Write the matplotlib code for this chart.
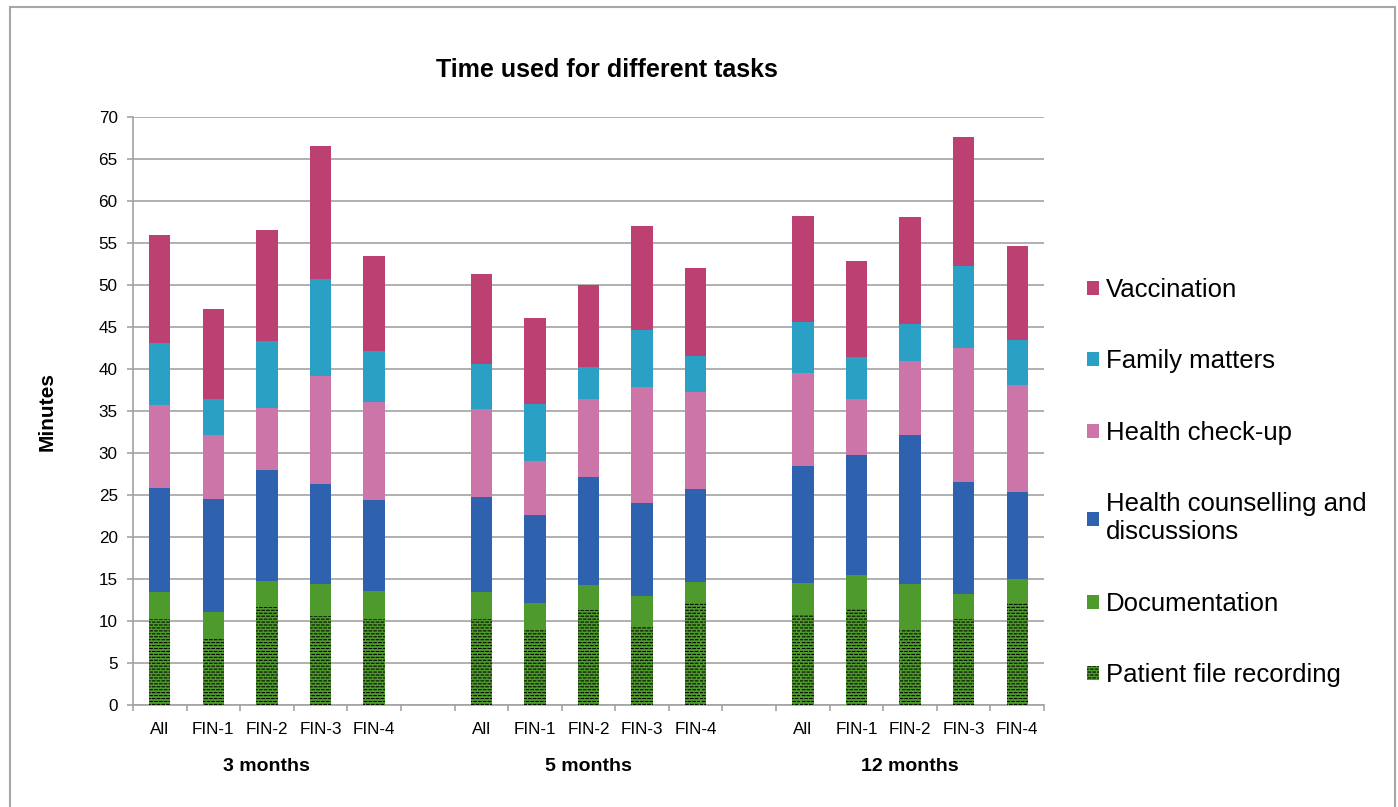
import numpy as np
import matplotlib
matplotlib.use("Agg")
import matplotlib.pyplot as plt
import matplotlib.transforms as mtransforms
from matplotlib import hatch as mhatch
from matplotlib.path import Path
from matplotlib.patches import Rectangle

groups = ["3 months", "5 months", "12 months"]
sites = ["All", "FIN-1", "FIN-2", "FIN-3", "FIN-4"]

# minutes per task, 5 sites per follow-up point
patient_file = [10.2, 7.9, 11.7, 10.6, 10.2, 10.2, 8.9, 11.3, 9.3, 12.1, 10.8, 11.4, 9.1, 10.2, 12.2]
documentation = [3.3, 3.2, 3.1, 3.8, 3.4, 3.3, 3.3, 3.0, 3.7, 2.5, 3.7, 4.1, 5.3, 3.0, 2.8]
counselling = [12.3, 13.4, 13.2, 11.9, 10.8, 11.3, 10.4, 12.9, 11.0, 11.1, 13.9, 14.3, 17.7, 13.4, 10.3]
checkup = [9.9, 7.6, 7.3, 12.9, 11.7, 10.4, 6.4, 9.2, 13.9, 11.6, 11.1, 6.6, 8.9, 15.9, 12.8]
family = [7.4, 4.3, 8.0, 11.5, 6.1, 5.4, 6.8, 3.8, 6.7, 4.3, 6.1, 5.0, 4.3, 9.8, 5.4]
vaccination = [12.8, 10.8, 13.3, 15.8, 11.3, 10.7, 10.3, 9.8, 12.4, 10.4, 12.6, 11.5, 12.8, 15.3, 11.1]

series_names = ["Patient file recording", "Documentation",
                "Health counselling and\ndiscussions", "Health check-up",
                "Family matters", "Vaccination"]
series_colors = ["#4E9A2C", "#4E9A2C", "#2E62AE", "#CB75A9", "#2AA1C4", "#BD4073"]


# brick-like dashed hatch (replaces the '*' pattern)
class DashHatch(mhatch.HatchPatternBase):
    rows = 34
    cols = 21

    def __init__(self, hatch, density):
        n = hatch.count('*')
        self.num_vertices = self.rows * self.cols * 2 if n else 0

    def set_vertices_and_codes(self, vertices, codes):
        k = 0
        step = 1.0 / self.cols
        for r in range(self.rows):
            y = (r + 0.5) / self.rows
            off = 0.5 * step if r % 2 else 0.0
            for c in range(self.cols):
                x0 = c * step + off
                x1 = min(x0 + 0.55 * step, 1.0)
                vertices[k] = (x0, y)
                vertices[k + 1] = (x1, y)
                codes[k] = Path.MOVETO
                codes[k + 1] = Path.LINETO
                k += 2


mhatch._hatch_types[mhatch._hatch_types.index(mhatch.Stars)] = DashHatch

plt.rcParams['font.family'] = ['Liberation Sans', 'DejaVu Sans']
plt.rcParams['hatch.linewidth'] = 0.75

x = np.array([g * 6 + i for g in range(len(groups)) for i in range(len(sites))])

fig = plt.figure(figsize=(13.98, 8.07), dpi=100)
ax = fig.add_axes([0.0951, 0.1264, 0.6517, 0.7286])

data = [patient_file, documentation, counselling, checkup, family, vaccination]
bottom = np.zeros(len(x))
handles = []
for i, (vals, name, col) in enumerate(zip(data, series_names, series_colors)):
    vals = np.array(vals)
    if i == 0:
        b = ax.bar(x, vals, 0.4, bottom=bottom, color=col, edgecolor="black",
                   linewidth=0, hatch="*", label=name, zorder=3)
    else:
        b = ax.bar(x, vals, 0.4, bottom=bottom, color=col, linewidth=0,
                   label=name, zorder=3)
    handles.append(b)
    bottom += vals

ax.set_xlim(-0.5, 16.5)
ax.set_ylim(0, 70)
ax.set_yticks(np.arange(0, 71, 5))
ax.yaxis.grid(True, color="#A3A3A3", linewidth=1.2, zorder=0)
ax.set_axisbelow(True)
ax.set_xticks(x)
ax.set_xticklabels(sites * len(groups), fontsize=12.3)
ax.set_xticks(np.arange(-0.5, 17, 1), minor=True)
ax.tick_params(axis="x", which="major", length=0, pad=12)
ax.tick_params(axis="x", which="minor", length=4, color="#A3A3A3", width=1.2)
ax.tick_params(axis="y", length=4, color="#A3A3A3", width=1.2, labelsize=12.3, pad=7)
for s in ["top", "right"]:
    ax.spines[s].set_visible(False)
for s in ["left", "bottom"]:
    ax.spines[s].set_color("#A3A3A3")
    ax.spines[s].set_linewidth(1.2)

trans = mtransforms.blended_transform_factory(ax.transData, ax.transAxes)
for g, name in enumerate(groups):
    ax.text(g * 6 + 2, -0.104, name, transform=trans, ha="center", va="center",
            fontsize=14, fontweight="bold")

fig.text(0.434, 0.913, "Time used for different tasks", ha="center", va="center",
         fontsize=18, fontweight="bold")
fig.text(0.0336, 0.4907, "Minutes", rotation=90, ha="center", va="center",
         fontsize=15, fontweight="bold")

ax.legend(handles[::-1], series_names[::-1], loc="center left",
          bbox_to_anchor=(0.7775, 0.402), bbox_transform=fig.transFigure,
          frameon=False, fontsize=18.5, handlelength=0.45, handleheight=0.45,
          handletextpad=0.3, labelspacing=1.85, borderpad=0, borderaxespad=0)

fig.patches.append(Rectangle((0.0072, -0.02), 0.9907, 1.0113, transform=fig.transFigure,
                             fill=False, edgecolor="#A6A6A6", linewidth=1.5))

fig.savefig("out.png", dpi=100)
